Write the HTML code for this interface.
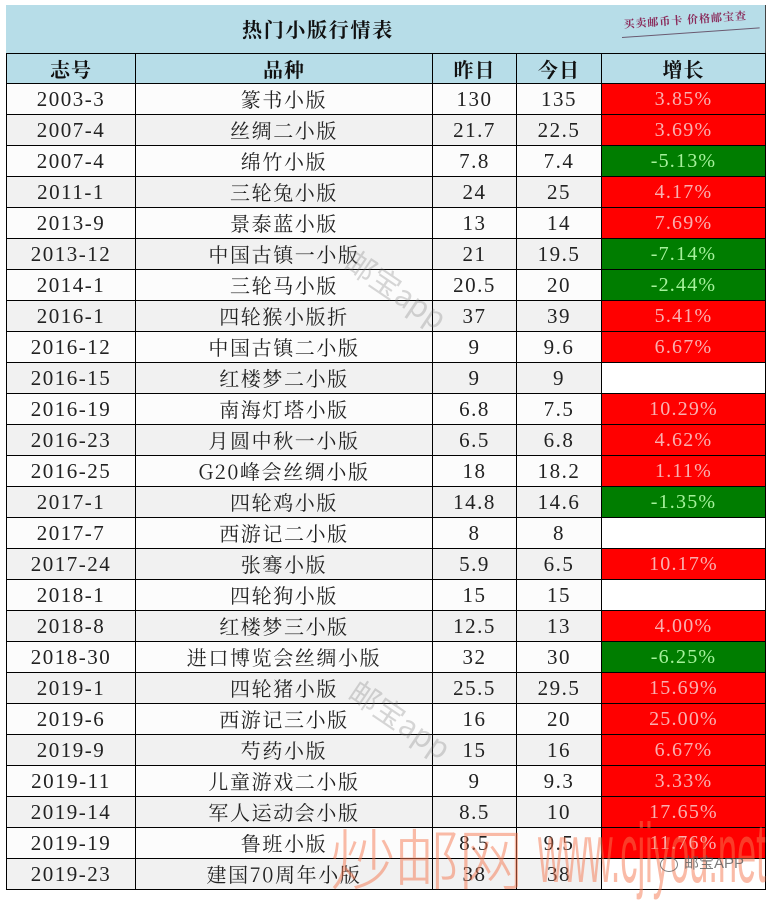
<!DOCTYPE html>
<html><head><meta charset="utf-8">
<style>
html,body{margin:0;padding:0;background:#fff;}
body{width:772px;height:897px;position:relative;overflow:hidden;font-family:"Liberation Serif","Noto Serif CJK SC",serif;color:#222;}
.title{position:absolute;left:6px;top:5px;width:760px;height:48px;background:#b7dde8;border-right:1px solid #444;box-sizing:border-box;}
.title .t{position:absolute;left:236px;top:10px;font-family:"Noto Serif CJK SC","Noto Sans CJK SC",serif;font-weight:700;font-size:20px;letter-spacing:1.7px;line-height:28px;color:#111;}
.stamp{position:absolute;left:624px;top:16px;font-family:"Noto Serif CJK SC",serif;font-size:11px;color:#8a2a5a;letter-spacing:1px;transform:rotate(-4deg);transform-origin:left bottom;white-space:nowrap;font-weight:700;}
.sline{position:absolute;left:622px;top:37px;width:138px;height:1px;background:#6a5a70;transform:rotate(-4deg);transform-origin:left center;}
.tbl{position:absolute;left:6px;top:53px;width:760px;}
.row{display:flex;height:31px;box-sizing:border-box;border-bottom:1px solid #000;}
.row.hd{border-top:1px solid #000;background:#b7dde8;}
.row.g{background:#f1f1f1;}
.row.w{background:#fcfcfc;}
.c{box-sizing:border-box;border-right:1px solid #000;text-align:center;line-height:30px;white-space:nowrap;overflow:hidden;}
.c1{width:130px;border-left:1px solid #000;font-size:21px;letter-spacing:1.5px;}
.c2{width:297px;font-family:"Noto Serif CJK SC",serif;font-size:20px;letter-spacing:1.6px;}
.c3{width:84px;font-size:21px;letter-spacing:1.5px;}
.c4{width:85px;font-size:21px;letter-spacing:1.5px;}
.c5{width:164px;font-size:20px;letter-spacing:1.2px;}
.hd .c{font-family:"Noto Serif CJK SC",serif;font-weight:700;font-size:20px;letter-spacing:1px;color:#111;}
.r{background:#ff0000;color:#f9b0b0;}
.gr{background:#007d00;color:#a6f29c;}
.wm{position:absolute;font-family:"Noto Sans CJK SC",sans-serif;font-size:30px;color:rgba(110,110,110,0.28);transform:rotate(34deg);transform-origin:left top;white-space:nowrap;}
.big{position:absolute;left:330px;top:816px;font-family:"Noto Sans CJK SC",sans-serif;font-size:66px;line-height:80px;color:rgba(245,120,80,0.5);font-weight:300;white-space:nowrap;letter-spacing:-2px;}
.url{position:absolute;left:538px;top:808px;font-family:"Liberation Sans",sans-serif;font-size:84px;line-height:90px;color:rgba(245,120,80,0.5);transform:scaleX(0.41);transform-origin:left top;white-space:nowrap;}
.wx{position:absolute;left:660px;top:852px;font-family:"Liberation Sans","Noto Sans CJK SC",sans-serif;font-size:15px;color:rgba(90,90,90,0.8);white-space:nowrap;}
</style></head><body>
<div class="title"><div class="t">热门小版行情表</div></div>
<div class="stamp">买卖邮币卡 价格邮宝查</div>
<div class="sline"></div>
<div class="tbl">
<div class="row hd"><div class="c c1">志号</div><div class="c c2">品种</div><div class="c c3">昨日</div><div class="c c4">今日</div><div class="c c5">增长</div></div>
<div class="row w"><div class="c c1">2003-3</div><div class="c c2">篆书小版</div><div class="c c3">130</div><div class="c c4">135</div><div class="c c5 r">3.85%</div></div>
<div class="row g"><div class="c c1">2007-4</div><div class="c c2">丝绸二小版</div><div class="c c3">21.7</div><div class="c c4">22.5</div><div class="c c5 r">3.69%</div></div>
<div class="row w"><div class="c c1">2007-4</div><div class="c c2">绵竹小版</div><div class="c c3">7.8</div><div class="c c4">7.4</div><div class="c c5 gr">-5.13%</div></div>
<div class="row g"><div class="c c1">2011-1</div><div class="c c2">三轮兔小版</div><div class="c c3">24</div><div class="c c4">25</div><div class="c c5 r">4.17%</div></div>
<div class="row w"><div class="c c1">2013-9</div><div class="c c2">景泰蓝小版</div><div class="c c3">13</div><div class="c c4">14</div><div class="c c5 r">7.69%</div></div>
<div class="row g"><div class="c c1">2013-12</div><div class="c c2">中国古镇一小版</div><div class="c c3">21</div><div class="c c4">19.5</div><div class="c c5 gr">-7.14%</div></div>
<div class="row w"><div class="c c1">2014-1</div><div class="c c2">三轮马小版</div><div class="c c3">20.5</div><div class="c c4">20</div><div class="c c5 gr">-2.44%</div></div>
<div class="row g"><div class="c c1">2016-1</div><div class="c c2">四轮猴小版折</div><div class="c c3">37</div><div class="c c4">39</div><div class="c c5 r">5.41%</div></div>
<div class="row w"><div class="c c1">2016-12</div><div class="c c2">中国古镇二小版</div><div class="c c3">9</div><div class="c c4">9.6</div><div class="c c5 r">6.67%</div></div>
<div class="row g"><div class="c c1">2016-15</div><div class="c c2">红楼梦二小版</div><div class="c c3">9</div><div class="c c4">9</div><div class="c c5" style="background:#fff"></div></div>
<div class="row w"><div class="c c1">2016-19</div><div class="c c2">南海灯塔小版</div><div class="c c3">6.8</div><div class="c c4">7.5</div><div class="c c5 r">10.29%</div></div>
<div class="row g"><div class="c c1">2016-23</div><div class="c c2">月圆中秋一小版</div><div class="c c3">6.5</div><div class="c c4">6.8</div><div class="c c5 r">4.62%</div></div>
<div class="row w"><div class="c c1">2016-25</div><div class="c c2">G20峰会丝绸小版</div><div class="c c3">18</div><div class="c c4">18.2</div><div class="c c5 r">1.11%</div></div>
<div class="row g"><div class="c c1">2017-1</div><div class="c c2">四轮鸡小版</div><div class="c c3">14.8</div><div class="c c4">14.6</div><div class="c c5 gr">-1.35%</div></div>
<div class="row w"><div class="c c1">2017-7</div><div class="c c2">西游记二小版</div><div class="c c3">8</div><div class="c c4">8</div><div class="c c5" style="background:#fff"></div></div>
<div class="row g"><div class="c c1">2017-24</div><div class="c c2">张骞小版</div><div class="c c3">5.9</div><div class="c c4">6.5</div><div class="c c5 r">10.17%</div></div>
<div class="row w"><div class="c c1">2018-1</div><div class="c c2">四轮狗小版</div><div class="c c3">15</div><div class="c c4">15</div><div class="c c5" style="background:#fff"></div></div>
<div class="row g"><div class="c c1">2018-8</div><div class="c c2">红楼梦三小版</div><div class="c c3">12.5</div><div class="c c4">13</div><div class="c c5 r">4.00%</div></div>
<div class="row w"><div class="c c1">2018-30</div><div class="c c2">进口博览会丝绸小版</div><div class="c c3">32</div><div class="c c4">30</div><div class="c c5 gr">-6.25%</div></div>
<div class="row g"><div class="c c1">2019-1</div><div class="c c2">四轮猪小版</div><div class="c c3">25.5</div><div class="c c4">29.5</div><div class="c c5 r">15.69%</div></div>
<div class="row w"><div class="c c1">2019-6</div><div class="c c2">西游记三小版</div><div class="c c3">16</div><div class="c c4">20</div><div class="c c5 r">25.00%</div></div>
<div class="row g"><div class="c c1">2019-9</div><div class="c c2">芍药小版</div><div class="c c3">15</div><div class="c c4">16</div><div class="c c5 r">6.67%</div></div>
<div class="row w"><div class="c c1">2019-11</div><div class="c c2">儿童游戏二小版</div><div class="c c3">9</div><div class="c c4">9.3</div><div class="c c5 r">3.33%</div></div>
<div class="row g"><div class="c c1">2019-14</div><div class="c c2">军人运动会小版</div><div class="c c3">8.5</div><div class="c c4">10</div><div class="c c5 r">17.65%</div></div>
<div class="row w"><div class="c c1">2019-19</div><div class="c c2">鲁班小版</div><div class="c c3">8.5</div><div class="c c4">9.5</div><div class="c c5 r">11.76%</div></div>
<div class="row g"><div class="c c1">2019-23</div><div class="c c2">建国70周年小版</div><div class="c c3">38</div><div class="c c4">38</div><div class="c c5" style="background:#fff"></div></div>
</div>
<div class="wm" style="left:362px;top:238px;">邮宝app</div>
<div class="wm" style="left:366px;top:668px;">邮宝app</div>
<div class="big">炒邮网</div>
<div class="url">www.cjiyou.net</div>
<div class="wx"><span style="display:inline-block;width:16px;height:13px;border:1.5px solid rgba(90,90,90,0.8);border-radius:50%;vertical-align:middle;margin-right:6px;"></span>邮宝APP</div>
</body></html>
